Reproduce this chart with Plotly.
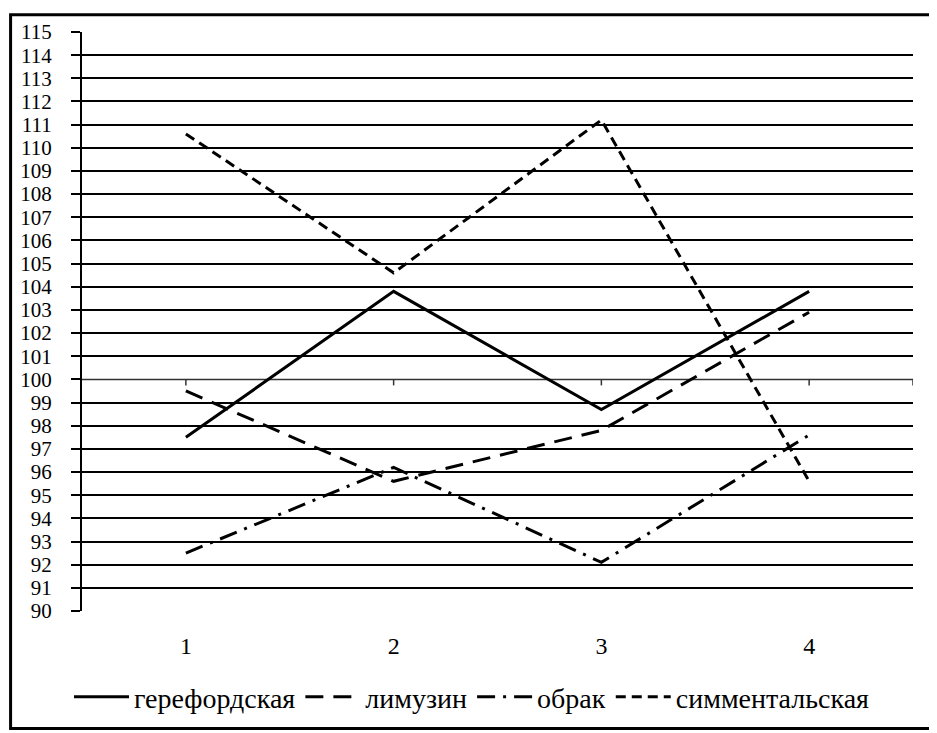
import plotly.graph_objects as go

categories = [1, 2, 3, 4]
series_names = ["герефордская", "лимузин", "обрак", "симментальская"]
gereford = [97.5, 103.8, 98.7, 103.8]
limuzin = [99.5, 95.6, 97.8, 102.9]
obrak = [92.5, 96.2, 92.1, 97.6]
simmental = [110.6, 104.6, 111.2, 95.6]
y_ticks = list(range(90, 116))

series_values = [gereford, limuzin, obrak, simmental]
dashes = ["solid", "18px,10px", "18px,8px,3px,8px", "10px,6px"]

FONT = "Liberation Serif"

fig = go.Figure()
for name, vals, dash in zip(series_names, series_values, dashes):
    fig.add_trace(go.Scatter(
        x=categories, y=vals, mode="lines", name=name,
        line=dict(color="black", width=3, dash=dash),
    ))

# page body has an 8px default margin, so the figure is sized/shifted to compensate
OFF = 8
W, H = 937 - OFF, 733 - OFF
ml, mr, mt, mb = 81 - OFF, 24, 27 - OFF, 122
pw, ph = W - ml - mr, H - mt - mb

fig.update_layout(
    width=W, height=H,
    margin=dict(l=ml, r=mr, t=mt, b=mb),
    paper_bgcolor="white", plot_bgcolor="white",
    font=dict(family=FONT, size=24, color="black"),
    showlegend=True,
    legend=dict(
        orientation="h", xref="container", yref="container",
        x=(472 - OFF) / W, xanchor="center", y=1 - (697 - OFF) / H, yanchor="middle",
        font=dict(family=FONT, size=28, color="black"),
        itemwidth=55, tracegroupgap=0, bgcolor="rgba(0,0,0,0)",
    ),
    xaxis=dict(
        range=[0.5, 4.5], tickvals=categories, ticktext=[str(c) for c in categories],
        showgrid=False, zeroline=False, showline=False, ticks="",
        ticklabelstandoff=18,
        tickfont=dict(family=FONT, size=24, color="black"),
    ),
    yaxis=dict(
        range=[90, 115], tickvals=y_ticks, ticktext=[str(v) for v in y_ticks],
        showgrid=True, gridcolor="black", gridwidth=2,
        zeroline=False, showline=True, linecolor="black", linewidth=2,
        ticks="outside", ticklen=9, tickwidth=2, tickcolor="black",
        ticklabelstandoff=15,
        tickfont=dict(family=FONT, size=21, color="black"),
    ),
)

# Category axis crossing at y = 100 (thin line with downward ticks)
axis_y = 100
fig.add_shape(type="line", xref="x", yref="y", x0=0.5, x1=4.5, y0=axis_y, y1=axis_y,
              line=dict(color="white", width=3), layer="between")
fig.add_shape(type="line", xref="x", yref="y", x0=0.5, x1=4.5, y0=axis_y, y1=axis_y,
              line=dict(color="#333333", width=1.5), layer="between")
for xv in categories + [4.5]:
    fig.add_shape(type="line", xref="x", yref="y", x0=xv, x1=xv,
                  ysizemode="pixel", yanchor=axis_y, y0=0, y1=-6,
                  line=dict(color="#333333", width=1.5), layer="between")

# Outer frame around the whole chart
fx0, fx1 = 1.5, 934.5 - OFF
fy0, fy1 = 1.5, 729.5 - OFF
fig.add_shape(type="rect", xref="paper", yref="paper",
              x0=(fx0 - ml) / pw, x1=(fx1 - ml) / pw,
              y0=(H - mb - fy1) / ph, y1=(H - mb - fy0) / ph,
              line=dict(color="black", width=3), fillcolor="rgba(0,0,0,0)")

fig.write_html("out.html")
